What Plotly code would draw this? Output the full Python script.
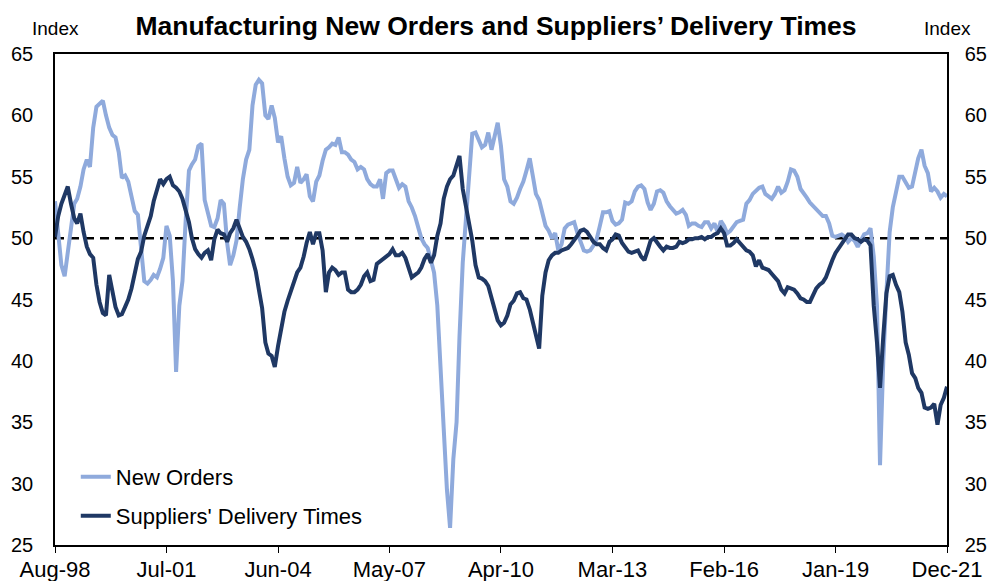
import pandas as pd
import plotly.graph_objects as go

# ---- data (monthly, Aug-1998 .. Dec-2021) ----
start_month = "1998-08-01"
n_months = 281
dates = pd.date_range(start_month, periods=n_months, freq="MS")

new_orders = [
    53.0, 50.5, 47.8, 46.9, 48.8, 51.2, 52.8, 53.2, 54.2, 55.6,
    56.4, 55.8, 59.0, 60.7, 61.0, 61.2, 60.0, 59.0, 58.4, 58.2,
    57.0, 54.9, 55.1, 54.6, 53.4, 52.2, 51.9, 49.2, 46.5, 46.3,
    46.6, 47.0, 46.8, 47.5, 48.4, 51.0, 50.2, 46.5, 39.1, 44.5,
    46.5, 51.5, 55.5, 56.0, 56.4, 57.5, 57.7, 53.1, 52.0, 51.0,
    50.9, 51.6, 53.1, 52.8, 49.6, 47.8, 48.6, 49.8, 52.5, 54.8,
    56.4, 57.2, 60.8, 62.5, 62.9, 62.6, 60.0, 59.7, 60.8, 59.8,
    57.8, 58.3, 56.5, 55.0, 54.3, 54.5, 55.8, 54.5, 54.8, 55.2,
    53.4, 53.0, 54.6, 55.1, 56.3, 57.2, 57.4, 57.7, 57.6, 58.2,
    57.0, 57.0, 56.8, 56.4, 56.2, 55.6, 55.8, 55.6, 54.8, 54.4,
    54.2, 54.2, 54.8, 53.2, 55.3, 55.5, 55.5, 54.7, 54.1, 54.4,
    54.2, 53.0, 52.5, 51.8, 50.8, 50.0, 49.5, 49.2, 48.2, 47.2,
    44.5, 40.0, 34.5, 29.5, 26.4, 32.0, 35.0, 42.0, 48.0, 51.5,
    55.0, 58.5, 58.6, 57.9, 57.4, 57.6, 58.6, 57.2, 58.2, 59.4,
    57.5, 54.8, 54.2, 53.0, 52.8, 53.3, 54.0, 54.6, 55.5, 56.5,
    55.0, 53.6, 53.1, 52.0, 51.0, 50.6, 50.0, 50.4, 49.0, 49.5,
    50.8, 51.1, 51.2, 51.3, 50.4, 49.6, 49.0, 48.9, 49.0, 49.4,
    49.9, 51.0, 52.1, 52.1, 52.2, 51.4, 51.1, 51.2, 51.5, 52.9,
    52.8, 53.0, 53.8, 54.2, 54.3, 54.0, 52.9, 52.3, 52.8, 53.8,
    53.9, 53.7, 53.0, 52.6, 52.3, 52.0, 52.1, 52.3, 51.9, 51.0,
    51.2, 51.2, 51.0, 50.9, 51.3, 51.3, 50.8, 51.2, 50.5, 51.4,
    51.0, 50.4, 50.6, 51.0, 51.3, 51.4, 51.5, 52.8, 53.1, 53.6,
    53.9, 54.1, 54.2, 53.6, 53.4, 53.2, 53.6, 54.2, 53.7, 53.9,
    54.6, 55.6, 55.5, 55.0, 54.0, 53.7, 53.3, 52.9, 52.6, 52.4,
    52.0, 51.8, 51.8, 51.2, 50.2, 50.1, 50.2, 50.3, 50.1, 49.7,
    50.0, 49.8, 49.3, 49.8, 50.3, 50.4, 50.8, 48.5, 44.5, 31.5,
    40.0, 45.5, 50.5, 52.5, 53.8, 55.0, 55.0, 54.5, 54.1, 54.2,
    55.6, 56.5, 57.2, 55.9, 55.3, 53.8, 54.1, 53.8, 53.3, 53.6,
    53.4,
]

delivery_times = [
    50.1, 51.8, 52.8, 53.5, 54.2, 52.8, 51.6, 51.2, 52.0, 50.5,
    49.3, 48.7, 48.4, 46.2, 44.8, 43.9, 43.7, 47.0, 45.8, 44.4,
    43.7, 43.8, 44.4, 45.0, 45.9, 47.3, 48.3, 48.9, 50.2, 51.0,
    51.8, 53.0, 54.0, 54.8, 54.4, 54.8, 55.0, 54.3, 54.1, 53.8,
    53.2, 52.2, 51.3, 50.0, 49.1, 48.7, 48.4, 48.8, 49.0, 48.2,
    49.9, 50.7, 50.4, 50.3, 49.7, 50.4, 50.8, 51.5, 50.8, 50.1,
    49.7, 49.1, 48.3, 47.3, 45.8, 44.3, 41.5, 40.6, 40.4, 39.5,
    41.2, 42.8, 44.0, 44.9, 45.7, 46.5, 47.2, 47.6, 48.5, 49.6,
    50.5, 49.5, 50.4, 50.4, 49.0, 45.6, 47.2, 47.6, 47.4, 47.0,
    47.2, 47.2, 45.8, 45.6, 45.6, 45.8, 46.2, 46.9, 47.2, 46.5,
    46.6, 47.9, 48.1, 48.3, 48.5, 48.7, 49.1, 48.6, 48.6, 48.8,
    48.4, 47.5, 46.8, 47.0, 47.2, 47.6, 48.3, 48.7, 48.0, 48.6,
    50.2, 51.2, 53.2, 54.2, 54.8, 55.1, 55.9, 56.7, 54.0, 52.6,
    51.2, 49.8, 47.8, 46.8, 46.7, 46.5, 46.1, 45.2, 44.2, 43.3,
    42.9, 43.1, 43.7, 44.6, 44.9, 45.5, 45.6, 45.1, 45.0, 44.2,
    43.1, 42.0, 41.0, 45.3, 47.2, 48.2, 48.6, 48.8, 48.8, 49.0,
    49.1, 49.2, 49.5, 49.8, 50.2, 50.6, 50.7, 50.5, 50.1, 49.7,
    49.5, 49.5, 49.2, 49.0, 49.7, 49.9, 50.3, 50.2, 49.6, 49.2,
    48.9, 48.8, 48.9, 49.0, 48.5, 48.2, 49.0, 49.8, 50.0, 49.6,
    49.3, 49.0, 49.3, 49.2, 49.2, 49.3, 49.7, 49.6, 49.7, 49.9,
    49.9, 50.0, 50.0, 50.1, 49.9, 50.1, 50.1, 50.3, 50.4, 50.8,
    50.4, 49.4, 49.4, 49.6, 49.9, 49.6, 49.3, 49.0, 48.9, 48.6,
    47.7, 48.2, 47.6, 47.5, 47.4, 47.1, 46.8, 46.5, 45.8, 45.5,
    46.0, 45.9, 45.8, 45.5, 45.1, 45.0, 44.8, 44.8, 45.3, 45.9,
    46.2, 46.4, 46.8, 47.6, 48.2, 48.8, 49.2, 49.5, 50.0, 50.3,
    50.3, 50.0, 49.9, 49.7, 49.9, 49.8, 49.4, 44.5, 41.5, 37.8,
    42.0, 45.5, 46.9, 47.0, 46.2, 45.6, 44.0, 41.5, 40.5, 39.0,
    38.6, 37.8, 37.4, 36.2, 36.1, 36.2, 36.5, 34.8, 36.4, 37.0,
    37.9,
]

tick_step = 35
tick_labels = ["Aug-98", "Jul-01", "Jun-04", "May-07", "Apr-10",
               "Mar-13", "Feb-16", "Jan-19", "Dec-21"]
y_range = [25, 65]
threshold = 50

LIGHT = "#8FAADC"
DARK = "#1F3864"
FONT = "Liberation Sans, Arial, sans-serif"

W, H = 992, 581
ML, MT, MR, MB = 55, 54, 45, 36
plot_h = H - MT - MB

fig = go.Figure()
fig.add_trace(go.Scatter(
    x=dates, y=new_orders, name="New Orders", mode="lines",
    line=dict(color=LIGHT, width=4), legend="legend",
    yaxis="y",
))
fig.add_trace(go.Scatter(
    x=dates, y=delivery_times, name="Suppliers' Delivery Times", mode="lines",
    line=dict(color=DARK, width=4), legend="legend2",
    yaxis="y2",
))

fig.add_shape(type="line", xref="paper", yref="y", x0=0, x1=1,
              y0=threshold, y1=threshold, layer="below",
              line=dict(color="black", width=2.5, dash="9px,6px"))

axis_common = dict(range=y_range, dtick=5, showgrid=False, zeroline=False,
                   showline=True, linecolor="black", linewidth=1.5,
                   ticks="outside", tickcolor="rgba(0,0,0,0)", automargin=False,
                   tickfont=dict(size=20, color="black", family=FONT))

legend_common = dict(x=0.0233, xanchor="left", yanchor="middle",
                     bgcolor="rgba(0,0,0,0)",
                     font=dict(size=22, family=FONT, color="black"),
                     itemwidth=30)

fig.update_layout(
    width=W, height=H, autosize=False,
    margin=dict(l=ML, r=MR, t=MT, b=MB, autoexpand=False),
    paper_bgcolor="white", plot_bgcolor="white",
    font=dict(family=FONT, color="black"),
    title=dict(text="<b>Manufacturing New Orders and Suppliers’ Delivery Times</b>",
               x=496 / W, xref="container", xanchor="center",
               y=1 - 26 / H, yanchor="middle", yref="container",
               font=dict(size=26.5, family=FONT, color="black")),
    xaxis=dict(range=[dates[0], dates[-1]],
               tickvals=list(dates[::tick_step]), ticktext=tick_labels,
               showgrid=False, zeroline=False, showline=True,
               linecolor="black", linewidth=1.5, mirror=True, automargin=False,
               ticks="outside", ticklen=6, tickcolor="black", tickwidth=1,
               ticklabelstandoff=-2,
               tickfont=dict(size=22, color="black", family=FONT)),
    yaxis=dict(**axis_common, side="left", ticklen=16),
    yaxis2=dict(**axis_common, side="right", overlaying="y", ticklen=12),
    showlegend=True,
    legend=dict(**legend_common, y=(545 - 477) / plot_h),
    legend2=dict(**legend_common, y=(545 - 516) / plot_h),
)

for xpos in (0, 1):
    fig.add_annotation(text="Index", xref="paper", yref="paper",
                       x=xpos, y=1 + 26 / plot_h, xanchor="center", yanchor="middle",
                       showarrow=False, font=dict(size=19, family=FONT, color="black"))

fig.write_html(
    "out.html",
    config={"displayModeBar": False},
    post_script="document.body.style.margin='0';document.body.style.overflow='hidden';",
)
